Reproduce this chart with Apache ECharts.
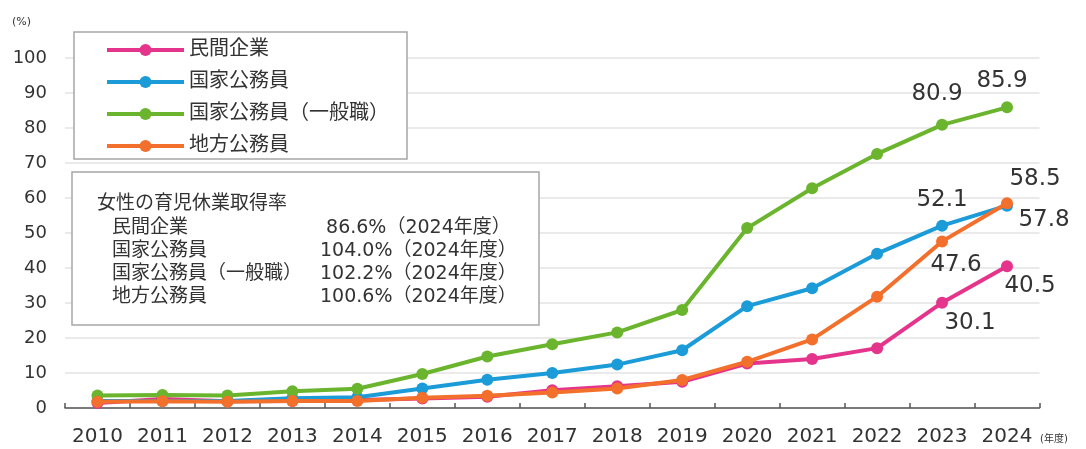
<!DOCTYPE html>
<html>
<head>
<meta charset="utf-8">
<script src="https://cdn.jsdelivr.net/npm/echarts@6/dist/echarts.min.js"></script>
<style>
html,body{margin:0;padding:0;background:#fff;}
#c{width:1086px;height:449px;}
</style>
</head>
<body>
<div id="c"></div>
<script>
const years = ['2010','2011','2012','2013','2014','2015','2016','2017','2018','2019','2020','2021','2022','2023','2024'];
const seriesNames = ['民間企業','国家公務員','国家公務員（一般職）','地方公務員'];
const privateSector = [1.4, 2.6, 1.9, 2.0, 2.3, 2.7, 3.2, 5.1, 6.2, 7.5, 12.7, 14.0, 17.1, 30.1, 40.5];
const nationalAll = [2.0, 2.0, 2.0, 2.8, 3.1, 5.6, 8.1, 10.0, 12.4, 16.5, 29.1, 34.2, 44.1, 52.1, 57.8];
const nationalGeneral = [3.6, 3.7, 3.6, 4.8, 5.5, 9.7, 14.7, 18.2, 21.6, 28.0, 51.4, 62.8, 72.6, 80.9, 85.9];
const localGov = [1.8, 1.9, 1.8, 2.0, 2.0, 2.9, 3.5, 4.4, 5.6, 8.0, 13.2, 19.6, 31.8, 47.6, 58.5];
const yTicks = [0,10,20,30,40,50,60,70,80,90,100];
const infoTitle = '女性の育児休業取得率';
const infoLabels = ['民間企業','国家公務員','国家公務員（一般職）','地方公務員'];
const infoValues = [' 86.6%（2024年度）','104.0%（2024年度）','102.2%（2024年度）','100.6%（2024年度）'];

const colors = ['#e5348b','#1b9bd7','#6bb52e','#f26f2c'];
const FONT = '"DejaVu Sans","Noto Sans CJK JP",sans-serif';
// label offsets for last two points of each series [2023, 2024]
const labelOffsets = [
  [[28,20],[23,20]],
  [[0,-26],[37,14]],
  [[-5,-31],[-5,-26]],
  [[14,24],[28,-24]]
];
const allData = [privateSector, nationalAll, nationalGeneral, localGov];

const series = allData.map((arr, si) => ({
  name: seriesNames[si],
  type: 'line',
  data: arr.map((v, i) => {
    const n = arr.length;
    if (i >= n - 2) {
      const off = labelOffsets[si][i - (n - 2)];
      return {
        value: v,
        label: {
          show: true, position: 'inside', offset: off,
          formatter: v.toFixed(1), fontSize: 23, color: '#333', fontFamily: FONT
        }
      };
    }
    return v;
  }),
  symbol: 'circle',
  symbolSize: 12,
  lineStyle: { width: 4, color: colors[si] },
  itemStyle: { color: colors[si] },
  z: 2 + si,
  animation: false
}));

const chart = echarts.init(document.getElementById('c'), null, {renderer: 'canvas'});
const INFO_FS = 19;
const graphics = [
  { type: 'rect', shape: { x: 74, y: 32, width: 333, height: 127 }, style: { fill: '#fff', stroke: '#a6a6a6', lineWidth: 1.5 }, z: 10 },
  { type: 'rect', shape: { x: 72, y: 172, width: 467, height: 153 }, style: { fill: '#fff', stroke: '#a6a6a6', lineWidth: 1.5 }, z: 10 },
  { type: 'text', x: 97, y: 204, style: { text: infoTitle, fontSize: INFO_FS, fill: '#333', fontFamily: FONT, verticalAlign: 'middle' }, z: 11 },
  { type: 'text', x: 12, y: 22, style: { text: '(%)', fontSize: 11, fill: '#333', fontFamily: FONT, verticalAlign: 'middle' }, z: 11 },
  { type: 'text', x: 1040, y: 439, style: { text: '(年度)', fontSize: 10, fill: '#333', fontFamily: FONT, verticalAlign: 'middle' }, z: 11 }
];
infoLabels.forEach((t, i) => {
  graphics.push({ type: 'text', x: 112, y: 228 + i * 23, style: { text: t, fontSize: INFO_FS, fill: '#333', fontFamily: FONT, verticalAlign: 'middle' }, z: 11 });
  graphics.push({ type: 'text', x: 320, y: 228 + i * 23, style: { text: infoValues[i], fontSize: INFO_FS, fill: '#333', fontFamily: FONT, verticalAlign: 'middle' }, z: 11 });
});

chart.setOption({
  animation: false,
  color: colors,
  textStyle: { fontFamily: FONT },
  grid: { left: 65, right: 46.5, top: 58, bottom: 41 },
  legend: {
    data: seriesNames,
    orient: 'vertical',
    left: 100, top: 35, padding: 5,
    itemWidth: 77, itemHeight: 15, itemGap: 12,
    lineStyle: { width: 4 },
    textStyle: { fontSize: 20, color: '#333', fontFamily: FONT },
    z: 12
  },
  xAxis: {
    type: 'category',
    data: years,
    boundaryGap: true,
    axisLine: { show: true, lineStyle: { color: '#555', width: 1.5 } },
    axisTick: { show: true, inside: true, length: 5, interval: 0, lineStyle: { color: '#555', width: 1.5 } },
    axisLabel: { fontSize: 20, color: '#333', margin: 19, interval: 0, fontFamily: FONT },
    splitLine: { show: false }
  },
  yAxis: {
    type: 'value',
    min: 0, max: 100, interval: 10,
    axisLine: { show: false },
    axisTick: { show: false },
    axisLabel: { fontSize: 18, color: '#333', margin: 18, fontFamily: FONT,
      formatter: v => yTicks.includes(v) ? String(v) : '' },
    splitLine: { show: true, lineStyle: { color: '#e3e3e3', width: 1.5 } }
  },
  graphic: graphics,
  series: series
});
</script>
</body>
</html>
